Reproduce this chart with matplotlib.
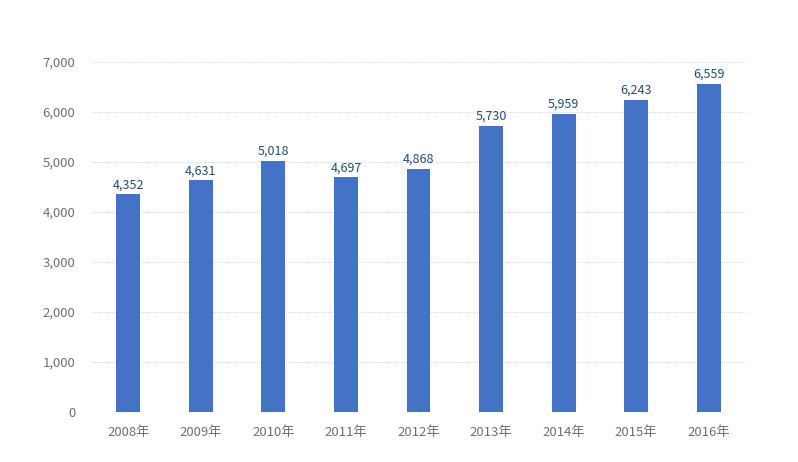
import matplotlib.pyplot as plt
from matplotlib.ticker import FuncFormatter

plt.rcParams['font.family'] = ['Noto Sans CJK JP', 'DejaVu Sans']

years = ['2008年', '2009年', '2010年', '2011年', '2012年', '2013年', '2014年', '2015年', '2016年']
values = [4352, 4631, 5018, 4697, 4868, 5730, 5959, 6243, 6559]

fig = plt.figure(figsize=(7.98, 4.62), dpi=100)
ax = fig.add_axes([0.1153, 0.1082, 0.8183, 0.7576])

x = range(len(years))
bars = ax.bar(x, values, width=0.33, color='#4472C4', zorder=3)
for xi, v in zip(x, values):
    ax.text(xi, v + 60, f"{v:,}", ha='center', va='bottom', fontsize=9, color='#1F4E79')

ax.set_xlim(-0.5, len(years) - 0.5)
ax.set_ylim(0, 7000)
ax.set_yticks(range(0, 7001, 1000))
ax.yaxis.set_major_formatter(FuncFormatter(lambda v, p: f"{int(v):,}"))
ax.set_xticks(list(x))
ax.set_xticklabels(years)
ax.grid(axis='y', color='#d9d9d9', linestyle=(0, (1, 1)), linewidth=0.8, zorder=0)
for s in ax.spines.values():
    s.set_visible(False)
ax.tick_params(length=0, labelsize=9.5, labelcolor='#707070')
ax.tick_params(axis='y', pad=12)
ax.tick_params(axis='x', pad=10)

plt.savefig('out.png', dpi=100)
plt.close()
